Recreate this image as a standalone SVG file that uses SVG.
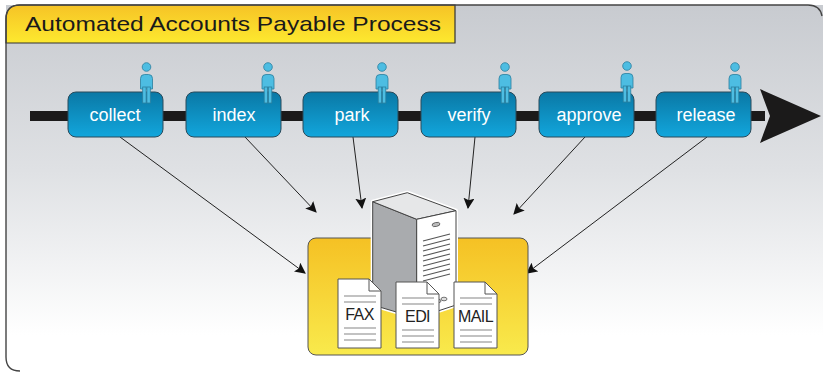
<svg xmlns="http://www.w3.org/2000/svg" width="823" height="372" viewBox="0 0 823 372">
  <style>
    .title { font-family: "Liberation Sans", Arial, sans-serif; font-size: 21px; fill: #1a1a1a; }
    .step { fill: url(#stepGrad); stroke: #2a4a5a; stroke-width: 1; }
    .stepText { font-family: "Liberation Sans", Arial, sans-serif; font-size: 18px; fill: #ffffff; text-anchor: middle; }
    .conn { stroke: #222; stroke-width: 1; fill: none; marker-end: url(#arrow); }
    .doc { fill: #ffffff; stroke: #555; stroke-width: 1; }
    .docLine { stroke: #999; stroke-width: 1.2; }
    .docText { font-family: "Liberation Sans", Arial, sans-serif; font-size: 16px; fill: #222; text-anchor: middle; letter-spacing: -0.6px; }
    .vent { stroke: #555; stroke-width: 1.2; }
    .figure { fill: #4dbde2; stroke: #2b7f9e; stroke-width: 0.8; }
  </style>
  <defs>
    <linearGradient id="bgGrad" x1="0" y1="0" x2="0" y2="1">
      <stop offset="0" stop-color="#c8cbd0"/>
      <stop offset="0.45" stop-color="#dfe1e4"/>
      <stop offset="0.9" stop-color="#ffffff"/>
    </linearGradient>
    <linearGradient id="tabGrad" x1="0" y1="0" x2="0" y2="1">
      <stop offset="0" stop-color="#f6c326"/>
      <stop offset="1" stop-color="#fde92f"/>
    </linearGradient>
    <linearGradient id="stepGrad" x1="0" y1="0" x2="0" y2="1">
      <stop offset="0" stop-color="#0a78a5"/>
      <stop offset="1" stop-color="#12a6dc"/>
    </linearGradient>
    <linearGradient id="boxGrad" x1="0" y1="0" x2="0" y2="1">
      <stop offset="0" stop-color="#f5c124"/>
      <stop offset="1" stop-color="#f9ea4c"/>
    </linearGradient>
    <marker id="arrow" viewBox="0 0 10 10" refX="9" refY="5" markerWidth="11" markerHeight="11" markerUnits="userSpaceOnUse" orient="auto">
      <path d="M0,0 L10,5 L0,10 L2,5 Z" fill="#111"/>
    </marker>
    <g id="person">
      <circle class="figure" cx="0" cy="0" r="4.3"/>
      <path class="figure" d="M-6,22 L-6,11.5 Q-6,7.5 -2,7.5 L2,7.5 Q6,7.5 6,11.5 L6,22 Z"/>
      <rect class="figure" x="-3.8" y="20" width="3.4" height="16"/>
      <rect class="figure" x="0.4" y="20" width="3.4" height="16"/>
    </g>
  </defs>

  <!-- frame and title tab -->
  <rect x="6" y="5" width="817" height="367" fill="url(#bgGrad)"/>
  <path d="M6,43 L6,19 Q6,5 20,5 L455,5 L455,43 Z" fill="url(#tabGrad)" stroke="#333" stroke-width="1.2"/>
  <path d="M20,371 Q6,371 6,357 L6,19 Q6,5 20,5 L808,5 Q820,5 822,16" fill="none" stroke="#444" stroke-width="1.4"/>
  <text class="title" x="25" y="31" textLength="416" lengthAdjust="spacingAndGlyphs">Automated Accounts Payable Process</text>

  <!-- process timeline -->
  <g id="timeline">
    <rect x="30" y="111" width="735" height="10" fill="#1b1a1a"/>
    <path d="M760,89 L821,116 L760,143 L770,116 Z" fill="#1b1a1a"/>
  </g>

  <!-- connectors -->
  <g id="connectors">
    <line class="conn" x1="120" y1="137" x2="305" y2="273"/>
    <line class="conn" x1="245" y1="137" x2="316" y2="212"/>
    <line class="conn" x1="353" y1="137" x2="362" y2="208"/>
    <line class="conn" x1="475" y1="137" x2="468" y2="208"/>
    <line class="conn" x1="585" y1="137" x2="514" y2="214"/>
    <line class="conn" x1="707" y1="137" x2="527" y2="273"/>
  </g>

  <!-- process steps -->
  <g id="collect">
    <rect class="step" x="68" y="92" width="95" height="45" rx="8"/>
    <text class="stepText" x="115" y="121">collect</text>
    <use href="#person" x="146.5" y="67"/>
  </g>
  <g id="index">
    <rect class="step" x="186" y="92" width="95" height="45" rx="8"/>
    <text class="stepText" x="234" y="121">index</text>
    <use href="#person" x="268" y="67"/>
  </g>
  <g id="park">
    <rect class="step" x="303" y="92" width="95" height="45" rx="8"/>
    <text class="stepText" x="352" y="121">park</text>
    <use href="#person" x="382" y="67"/>
  </g>
  <g id="verify">
    <rect class="step" x="421" y="92" width="95" height="45" rx="8"/>
    <text class="stepText" x="469" y="121">verify</text>
    <use href="#person" x="505" y="67"/>
  </g>
  <g id="approve">
    <rect class="step" x="539" y="92" width="95" height="45" rx="8"/>
    <text class="stepText" x="589" y="121">approve</text>
    <use href="#person" x="627" y="66"/>
  </g>
  <g id="release">
    <rect class="step" x="656" y="92" width="95" height="45" rx="8"/>
    <text class="stepText" x="706" y="121">release</text>
    <use href="#person" x="735" y="67"/>
  </g>

  <!-- document repository -->
  <g id="repository">
    <rect x="308" y="238" width="220" height="117" rx="8" fill="url(#boxGrad)" stroke="#555" stroke-width="1"/>
    <!-- server tower -->
    <path d="M372.7,201.7 L407.3,192.7 L456,210.7 L456,305 L416.7,318 L372.7,305 Z" fill="none" stroke="#ffffff" stroke-width="4" stroke-linejoin="round"/>
    <path d="M372.7,201.7 L416.7,219.3 L416.7,318 L372.7,305 Z" fill="#a9abae" stroke="#444" stroke-width="1"/>
    <path d="M372.7,201.7 L407.3,192.7 L456,210.7 L416.7,219.3 Z" fill="#e6e7e8" stroke="#444" stroke-width="1"/>
    <path d="M416.7,219.3 L456,210.7 L456,305 L416.7,318 Z" fill="#ffffff" stroke="#444" stroke-width="1"/>
    <ellipse cx="436" cy="224.5" rx="4" ry="2" fill="#bbb" stroke="#555" stroke-width="0.8" transform="rotate(-12 436 224.5)"/>
    <g id="vents">
      <line class="vent" x1="423" y1="241" x2="450" y2="234"/>
      <line class="vent" x1="423" y1="246" x2="450" y2="239"/>
      <line class="vent" x1="423" y1="251" x2="450" y2="244"/>
      <line class="vent" x1="423" y1="256" x2="450" y2="249"/>
      <line class="vent" x1="423" y1="261" x2="450" y2="254"/>
      <line class="vent" x1="423" y1="266" x2="450" y2="259"/>
      <line class="vent" x1="423" y1="271" x2="450" y2="264"/>
      <line class="vent" x1="423" y1="276" x2="450" y2="269"/>
      <line class="vent" x1="423" y1="281" x2="450" y2="274"/>
    </g>
    <ellipse cx="444" cy="299" rx="3" ry="1.8" fill="#ddd" stroke="#555" stroke-width="0.8"/>
    <ellipse cx="438" cy="301" rx="3" ry="1.8" fill="#ddd" stroke="#555" stroke-width="0.8"/>

    <!-- documents -->
    <g id="fax">
      <path class="doc" d="M338,279 L369,279 L381,291 L381,348 L338,348 Z"/>
      <path d="M369,279 L369,291 L381,291" fill="none" stroke="#555" stroke-width="1"/>
      <line class="docLine" x1="344" y1="296" x2="376" y2="296"/>
      <line class="docLine" x1="344" y1="302" x2="376" y2="302"/>
      <text class="docText" x="359.5" y="320">FAX</text>
      <line class="docLine" x1="344" y1="328" x2="376" y2="328"/>
      <line class="docLine" x1="344" y1="334" x2="376" y2="334"/>
      <line class="docLine" x1="344" y1="340" x2="376" y2="340"/>
    </g>
    <g id="edi">
      <path class="doc" d="M396,282 L427,282 L439,294 L439,348 L396,348 Z"/>
      <path d="M427,282 L427,294 L439,294" fill="none" stroke="#555" stroke-width="1"/>
      <line class="docLine" x1="402" y1="298" x2="434" y2="298"/>
      <line class="docLine" x1="402" y1="304" x2="434" y2="304"/>
      <text class="docText" x="417.5" y="322">EDI</text>
      <line class="docLine" x1="402" y1="330" x2="434" y2="330"/>
      <line class="docLine" x1="402" y1="336" x2="434" y2="336"/>
      <line class="docLine" x1="402" y1="342" x2="434" y2="342"/>
    </g>
    <g id="mail">
      <path class="doc" d="M454,282 L485,282 L497,294 L497,348 L454,348 Z"/>
      <path d="M485,282 L485,294 L497,294" fill="none" stroke="#555" stroke-width="1"/>
      <line class="docLine" x1="460" y1="298" x2="492" y2="298"/>
      <line class="docLine" x1="460" y1="304" x2="492" y2="304"/>
      <text class="docText" x="475.5" y="322">MAIL</text>
      <line class="docLine" x1="460" y1="330" x2="492" y2="330"/>
      <line class="docLine" x1="460" y1="336" x2="492" y2="336"/>
      <line class="docLine" x1="460" y1="342" x2="492" y2="342"/>
    </g>
  </g>
</svg>
